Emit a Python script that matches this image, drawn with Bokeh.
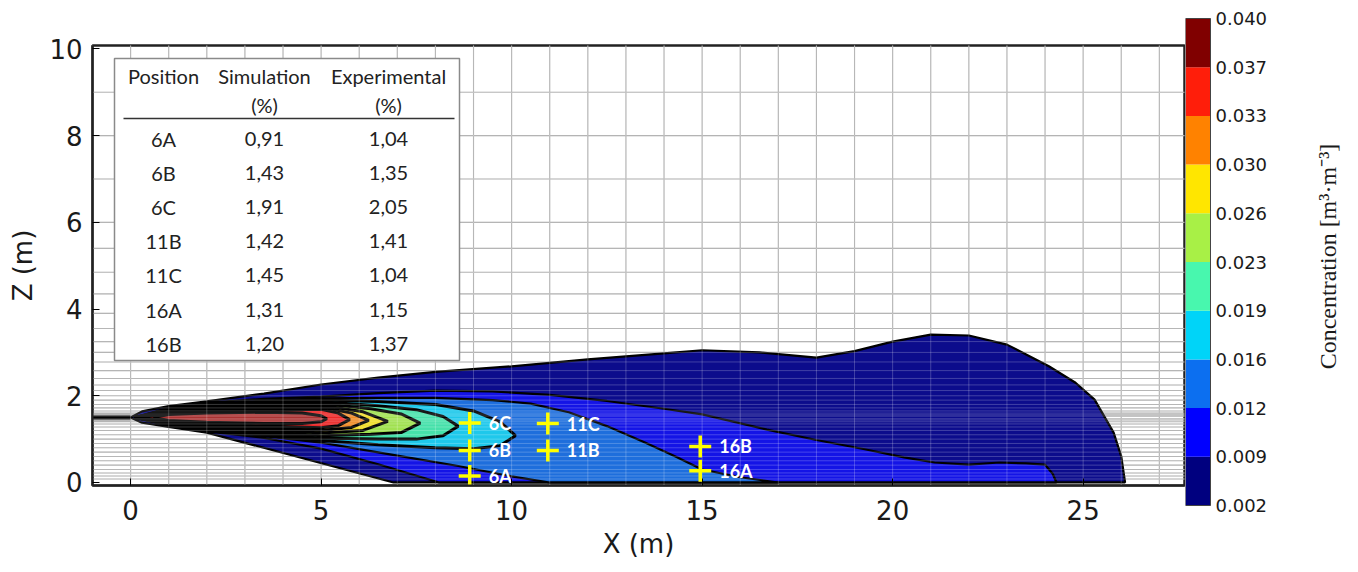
import math
from bokeh.plotting import figure
from bokeh.layouts import row
from bokeh.models import Range1d, FixedTicker
from bokeh.core.properties import value
from bokeh.embed import file_html
from bokeh.resources import INLINE

# ---------------- data ----------------
cb_levels = ["0.002", "0.009", "0.012", "0.016", "0.019", "0.023",
             "0.026", "0.030", "0.033", "0.037", "0.040"]
cb_colors = ["#00007f", "#0000ff", "#0c6ff0", "#00d4f8", "#48f7ae",
             "#a8f046", "#ffe600", "#ff8200", "#ff1e0a", "#800000"]
fill_colors = ["#0c0c8c", "#1414e6", "#1e6edc", "#1ec8eb", "#46e1aa",
               "#a0e150", "#f0dc28", "#f08c28", "#eb2828", "#aa3232"]
cb_title = "Concentration [m\u00b3\u00b7m\u207b\u00b3]"

# contour outlines (x, z in m): upper chain and lower chain
L0_ux = [0.0, 0.3, 1.0, 2.0, 3.5, 5.0, 6.5, 8.0, 10.0, 12.0, 14.0, 15.0, 16.5, 18.0, 19.0, 20.0, 21.0, 22.0, 23.0, 24.1, 24.8, 25.3, 25.8, 26.0, 26.1]
L0_uz = [1.5, 1.64, 1.76, 1.87, 2.05, 2.26, 2.42, 2.55, 2.68, 2.84, 2.98, 3.05, 3.0, 2.88, 3.03, 3.25, 3.41, 3.39, 3.18, 2.68, 2.3, 1.91, 1.15, 0.6, 0.0]
L0_lx = [0.0, 0.3, 1.0, 2.0, 6.9, 26.1]
L0_lz = [1.5, 1.38, 1.28, 1.15, 0.0, 0.0]

L1_ux = [0.1, 1.0, 2.0, 3.5, 5.0, 6.5, 8.0, 9.5, 11.0, 12.5, 14.0, 15.0, 16.7, 18.0, 19.3, 20.3, 21.1, 22.0, 22.8, 23.5, 24.0, 24.2, 24.3]
L1_uz = [1.5, 1.73, 1.84, 1.93, 1.98, 2.06, 2.12, 2.1, 2.02, 1.88, 1.7, 1.57, 1.22, 0.98, 0.76, 0.58, 0.46, 0.41, 0.46, 0.44, 0.41, 0.2, 0.0]
L1_lx = [0.1, 1.0, 2.0, 3.5, 5.0, 6.5, 8.1, 24.3]
L1_lz = [1.5, 1.3, 1.18, 1.03, 0.78, 0.42, 0.0, 0.0]

L2_ux = [0.1, 1.0, 2.0, 3.5, 5.0, 6.5, 8.0, 9.5, 10.5, 11.5, 12.5, 13.5, 14.3, 15.0, 16.0, 17.0]
L2_uz = [1.5, 1.7, 1.81, 1.89, 1.94, 1.95, 1.95, 1.9, 1.82, 1.62, 1.3, 0.92, 0.6, 0.3, 0.12, 0.0]
L2_lx = [0.1, 1.0, 2.0, 3.5, 5.0, 7.0, 8.6, 10.0, 11.0, 17.0]
L2_lz = [1.5, 1.32, 1.21, 1.07, 0.92, 0.62, 0.38, 0.14, 0.0, 0.0]

L3_ux = [0.1, 1.0, 2.0, 3.5, 5.0, 6.5, 8.0, 9.0, 9.7, 10.1]
L3_uz = [1.5, 1.68, 1.78, 1.86, 1.9, 1.87, 1.8, 1.65, 1.4, 1.08]
L3_lx = [0.1, 1.0, 2.0, 3.5, 5.0, 6.5, 8.0, 9.0, 9.7, 10.1]
L3_lz = [1.5, 1.34, 1.24, 1.1, 0.97, 0.87, 0.8, 0.78, 0.85, 1.08]

L4_ux = [0.1, 1.0, 2.0, 3.5, 5.0, 6.5, 7.5, 8.2, 8.6]
L4_uz = [1.5, 1.66, 1.75, 1.82, 1.86, 1.77, 1.68, 1.52, 1.3]
L4_lx = [0.1, 1.0, 2.0, 3.5, 5.0, 6.5, 7.5, 8.2, 8.6]
L4_lz = [1.5, 1.36, 1.27, 1.14, 1.02, 1.0, 1.0, 1.08, 1.3]

L5_ux = [0.1, 1.0, 2.0, 3.5, 5.0, 6.3, 7.1, 7.6]
L5_uz = [1.5, 1.64, 1.72, 1.78, 1.82, 1.7, 1.58, 1.37]
L5_lx = [0.1, 1.0, 2.0, 3.5, 5.0, 6.3, 7.1, 7.6]
L5_lz = [1.5, 1.38, 1.3, 1.18, 1.08, 1.11, 1.15, 1.37]

L6_ux = [0.1, 1.0, 2.0, 3.5, 5.0, 6.1, 6.75]
L6_uz = [1.5, 1.62, 1.69, 1.74, 1.78, 1.63, 1.41]
L6_lx = [0.1, 1.0, 2.0, 3.5, 5.0, 6.1, 6.75]
L6_lz = [1.5, 1.4, 1.32, 1.22, 1.14, 1.2, 1.41]

L7_ux = [0.1, 1.0, 2.0, 3.5, 5.0, 5.8, 6.25]
L7_uz = [1.5, 1.6, 1.66, 1.7, 1.74, 1.6, 1.43]
L7_lx = [0.1, 1.0, 2.0, 3.5, 5.0, 5.8, 6.25]
L7_lz = [1.5, 1.42, 1.34, 1.26, 1.2, 1.27, 1.43]

L8_ux = [0.1, 1.0, 2.0, 3.5, 5.0, 5.45, 5.75]
L8_uz = [1.5, 1.58, 1.63, 1.66, 1.69, 1.6, 1.45]
L8_lx = [0.1, 1.0, 2.0, 3.5, 5.0, 5.45, 5.75]
L8_lz = [1.5, 1.44, 1.36, 1.3, 1.26, 1.31, 1.45]

L9_ux = [0.6, 1.0, 2.0, 3.5, 4.5, 5.0, 5.15]
L9_uz = [1.5, 1.57, 1.6, 1.62, 1.6, 1.54, 1.47]
L9_lx = [0.6, 1.0, 2.0, 3.5, 4.5, 5.0, 5.15]
L9_lz = [1.5, 1.43, 1.39, 1.36, 1.36, 1.4, 1.47]

inlet_x = [-1.0, 0.0]
inlet_z = [1.5, 1.5]

# CFD mesh lines
mesh_x = list(range(-1, 28))
mesh_z = [9.0, 8.0, 7.0, 6.0, 5.4, 4.85, 4.35, 3.9, 3.55, 3.25, 3.0, 2.78, 2.58, 2.4,
          2.25, 2.12, 2.0, 1.9, 1.8, 1.72, 1.65, 1.6, 1.56, 1.53, 1.47, 1.44, 1.4,
          1.35, 1.28, 1.2, 1.1, 1.0, 0.9, 0.8, 0.7, 0.6, 0.5, 0.4, 0.3, 0.22, 0.15, 0.08]

# measurement positions
pt_name = ["6A", "6B", "6C", "11B", "11C", "16A", "16B"]
pt_x = [8.9, 8.9, 8.9, 10.95, 10.95, 14.95, 14.95]
pt_z = [0.15, 0.74, 1.37, 0.74, 1.36, 0.27, 0.83]

# table
tbl_pos = ["6A", "6B", "6C", "11B", "11C", "16A", "16B"]
tbl_sim = ["0,91", "1,43", "1,91", "1,42", "1,45", "1,31", "1,20"]
tbl_exp = ["1,04", "1,35", "2,05", "1,41", "1,04", "1,15", "1,37"]
tbl_head1 = ["Position", "Simulation", "Experimental"]
tbl_head2 = ["", "(%)", "(%)"]

x_ticks = [0, 5, 10, 15, 20, 25]
z_ticks = [0, 2, 4, 6, 8, 10]

# ---------------- layout helpers (pixel -> data) ----------------
X0, X1, Z0, Z1 = -1.0, 27.66, -0.07, 10.08
FL, FT, FW, FH = 92, 45, 1092, 440


def dx(px):
    return X0 + (px - FL) * (X1 - X0) / FW


def dz(py):
    return Z1 - (py - FT) * (Z1 - Z0) / FH


TXT = "#222222"

# ---------------- main figure ----------------
p = figure(width=1185, height=572, x_range=Range1d(X0, X1), y_range=Range1d(Z0, Z1),
           output_backend="svg", toolbar_location=None,
           min_border_left=FL, min_border_right=1, min_border_top=FT, min_border_bottom=87)
p.frame_align = False
p.xgrid.visible = False
p.ygrid.visible = False
p.outline_line_color = "#222222"
p.outline_line_width = 2.5
p.background_fill_color = "white"

# mesh under
p.segment(x0=mesh_x, y0=[Z0 - 1] * len(mesh_x), x1=mesh_x, y1=[Z1 + 1] * len(mesh_x),
          line_color="#a4a4a4", line_width=1.1)
p.segment(x0=[X0 - 1] * len(mesh_z), y0=mesh_z, x1=[X1 + 1] * len(mesh_z), y1=mesh_z,
          line_color="#a4a4a4", line_width=1.1)

p.line(inlet_x, inlet_z, line_color="#999999", line_width=9, line_alpha=0.6)
p.line(inlet_x, inlet_z, line_color="black", line_width=4)

chains = [(L0_ux, L0_uz, L0_lx, L0_lz), (L1_ux, L1_uz, L1_lx, L1_lz),
          (L2_ux, L2_uz, L2_lx, L2_lz), (L3_ux, L3_uz, L3_lx, L3_lz),
          (L4_ux, L4_uz, L4_lx, L4_lz), (L5_ux, L5_uz, L5_lx, L5_lz),
          (L6_ux, L6_uz, L6_lx, L6_lz), (L7_ux, L7_uz, L7_lx, L7_lz),
          (L8_ux, L8_uz, L8_lx, L8_lz), (L9_ux, L9_uz, L9_lx, L9_lz)]
for k, (ux, uz, lx, lz) in enumerate(chains):
    xs = list(ux) + list(lx)[::-1]
    zs = list(uz) + list(lz)[::-1]
    p.patch(xs, zs, fill_color=fill_colors[k], line_color="black",
            line_width=2.2 if k < 3 else 3.0)

# mesh seen through the plume
p.segment(x0=mesh_x, y0=[Z0 - 1] * len(mesh_x), x1=mesh_x, y1=[Z1 + 1] * len(mesh_x),
          line_color="white", line_width=1, line_alpha=0.22)
p.segment(x0=[X0 - 1] * len(mesh_z), y0=mesh_z, x1=[X1 + 1] * len(mesh_z), y1=mesh_z,
          line_color="white", line_width=1, line_alpha=0.22)

# measurement points
p.scatter(pt_x, pt_z, marker="cross", size=22, line_color="#ffff00", line_width=3.5)
p.text([x + dx(FL + 19) - X0 for x in pt_x], pt_z, text=pt_name, text_color="white",
       text_font=value("Lato"), text_font_style="bold", text_font_size="18px",
       text_baseline="middle", text_align="left")

# table inset
p.quad(left=[dx(114)], right=[dx(459)], top=[dz(58)], bottom=[dz(360)],
       fill_color="white", line_color="#8a8a8a", line_width=1.5)
col_x = [dx(163), dx(264), dx(388)]
p.text(col_x, [dz(75)] * 3, text=tbl_head1, text_font=value("Lato"), text_font_size="20px",
       text_color=TXT, text_align="center", text_baseline="middle")
p.text(col_x, [dz(104)] * 3, text=tbl_head2, text_font=value("Lato"), text_font_size="20px",
       text_color=TXT, text_align="center", text_baseline="middle")
p.segment(x0=[dx(123)], y0=[dz(118)], x1=[dx(454)], y1=[dz(118)], line_color="#333333",
          line_width=1.5)
row_y = [dz(138 + 34.2 * i) for i in range(len(tbl_pos))]
for cx, col in zip(col_x, [tbl_pos, tbl_sim, tbl_exp]):
    p.text([cx] * len(col), row_y, text=col, text_font=value("Lato"), text_font_size="20px",
           text_color=TXT, text_align="center", text_baseline="middle")

# axes
for ax in (p.xaxis, p.yaxis):
    ax.major_label_text_font = "DejaVu Sans"
    ax.major_label_text_font_size = "26px"
    ax.major_label_text_color = "#1a1a1a"
    ax.axis_label_text_font = "DejaVu Sans"
    ax.axis_label_text_font_size = "26px"
    ax.axis_label_text_font_style = "normal"
    ax.axis_label_text_color = "#1a1a1a"
    ax.major_tick_in = 7
    ax.major_tick_out = 0
    ax.minor_tick_line_color = None
    ax.axis_line_width = 2
    ax.axis_line_color = "#222222"
p.xaxis.ticker = FixedTicker(ticks=x_ticks)
p.yaxis.ticker = FixedTicker(ticks=z_ticks)
p.xaxis.axis_label = "X (m)"
p.yaxis.axis_label = "Z (m)"
p.xaxis.major_label_standoff = 14
p.xaxis.axis_label_standoff = 6
p.yaxis.major_label_standoff = 10
p.yaxis.axis_label_standoff = 8

# ---------------- colour bar (its own full-frame panel, pixel units) ----------------
CBW, CBH = 173, 572
cb = figure(width=CBW, height=CBH, x_range=Range1d(0, CBW), y_range=Range1d(0, CBH),
            output_backend="svg", toolbar_location=None,
            x_axis_location=None, y_axis_location=None,
            min_border_left=0, min_border_right=0, min_border_top=0, min_border_bottom=0)
cb.frame_align = False
cb.xgrid.visible = False
cb.ygrid.visible = False
cb.outline_line_color = None
BAR_L, BAR_R, BAR_T, BAR_B = 0, 25, CBH - 18, CBH - 505
n = len(cb_colors)
step = (BAR_T - BAR_B) / n
cb.quad(left=[BAR_L] * n, right=[BAR_R] * n,
        bottom=[BAR_B + i * step for i in range(n)],
        top=[BAR_B + (i + 1) * step for i in range(n)],
        fill_color=cb_colors, line_color=None)
cb.quad(left=[BAR_L], right=[BAR_R], bottom=[BAR_B], top=[BAR_T],
        fill_color=None, line_color="#444444", line_width=1)
lab_y = [BAR_B + i * step for i in range(len(cb_levels))]
cb.text([BAR_R + 5] * len(cb_levels), lab_y, text=cb_levels,
        text_font=value("DejaVu Sans"), text_font_size="18px", text_color="#1a1a1a",
        text_align="left", text_baseline="middle")
cb.text([1327 - 1185], [CBH - 256], text=[cb_title], angle=math.pi / 2,
        text_font=value("Liberation Serif"), text_font_size="24px", text_color="#1a1a1a",
        text_align="center", text_baseline="middle")

layout = row(p, cb)
open("out.html", "w").write(file_html(layout, INLINE))
